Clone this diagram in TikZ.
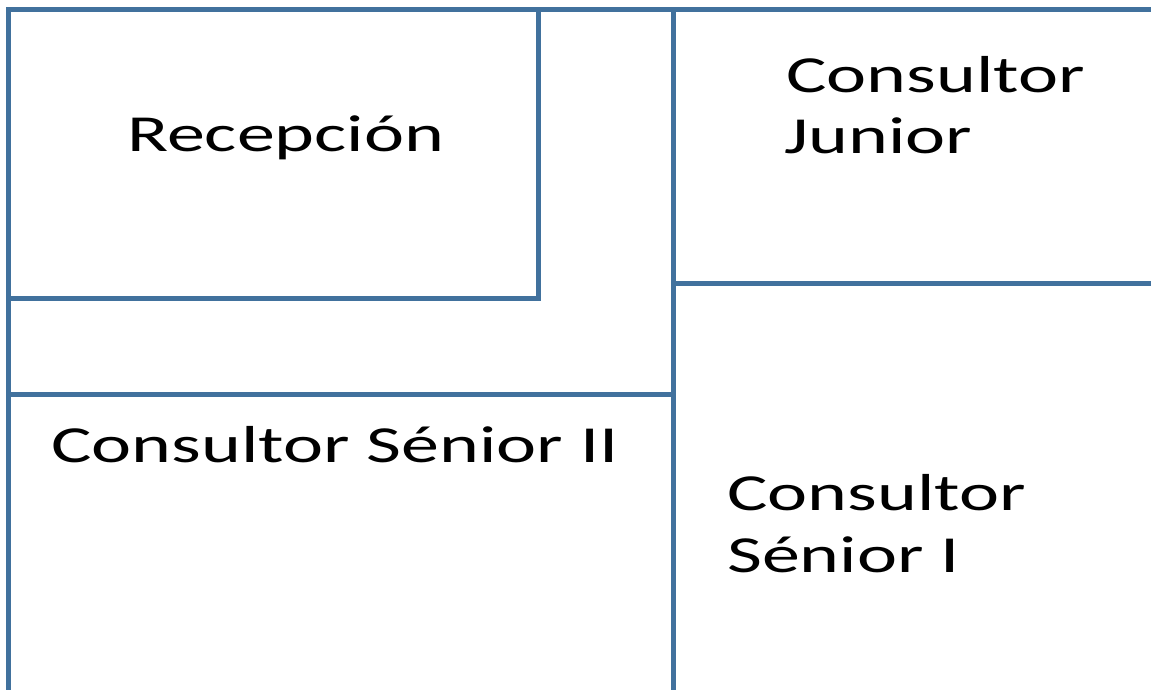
\documentclass[tikz,border=0pt]{standalone}
\usepackage{fontspec}
\setmainfont{Carlito}
\definecolor{wallblue}{RGB}{65,113,157}
\tikzset{
  wall/.style={draw=wallblue, line width=5pt, line join=miter},
  roomlabel/.style={anchor=base west, inner sep=0pt, font=\fontsize{52}{62}\selectfont, text=black}
}
\newcommand{\stretchtxt}[1]{\scalebox{1.46}[1]{#1}}
\begin{document}
\begin{tikzpicture}[x=1pt,y=-1pt]
\useasboundingbox (0,0) rectangle (1151,689);
\clip (0,0) rectangle (1151,689);
% outer walls
\draw[wall] (8.5,700) -- (8.5,9.5) -- (1170,9.5);
% reception box
\draw[wall] (8.5,298) -- (538.5,298) -- (538.5,9.5);
% left corridor divider
\draw[wall] (8.5,394) -- (673,394);
% central vertical wall
\draw[wall] (673,9.5) -- (673,700);
% right divider
\draw[wall] (673,283) -- (1170,283);
% labels
\node[roomlabel] (recep) at (127,151) {\stretchtxt{Recepción}};
\node[roomlabel] (junA) at (786,92) {\stretchtxt{Consultor}};
\node[roomlabel] (junB) at (784,153) {\stretchtxt{Junior}};
\node[roomlabel] (sen2) at (51,462) {\stretchtxt{Consultor Sénior II}};
\node[roomlabel] (sen1A) at (727,510) {\stretchtxt{Consultor}};
\node[roomlabel] (sen1B) at (727,572) {\stretchtxt{Sénior I}};
\end{tikzpicture}
\end{document}
